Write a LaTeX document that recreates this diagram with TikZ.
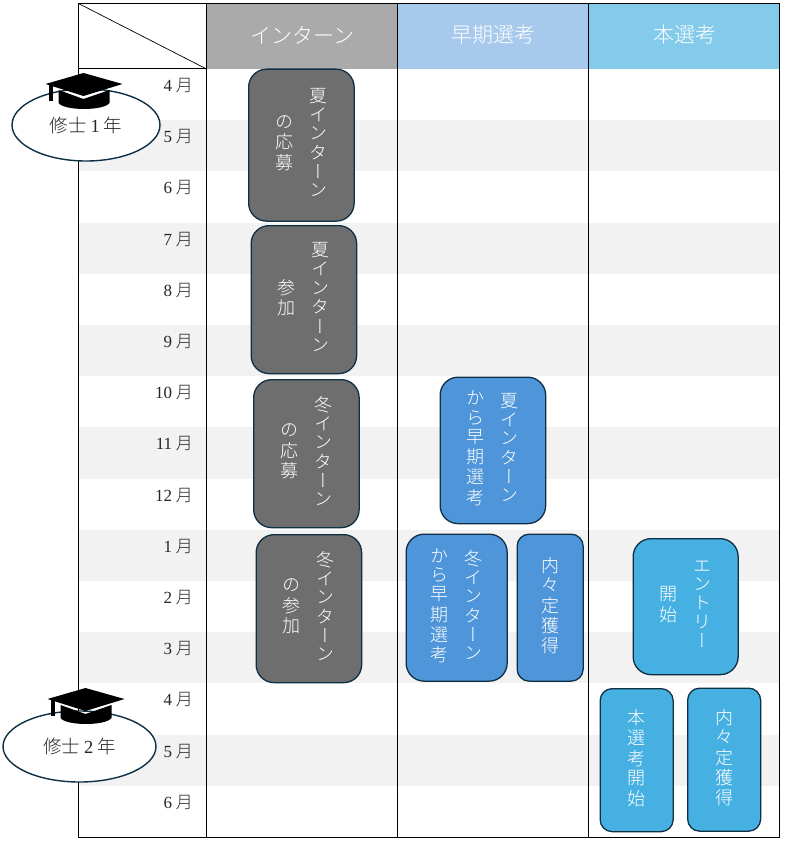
\documentclass[tikz,border=0pt]{standalone}
\usepackage{fontspec}
\usepackage{xcolor}
\usetikzlibrary{calc,positioning,shapes.geometric}
\setmainfont{Noto Sans CJK JP}[UprightFont=* Light]
\newfontfamily\tatefont{Noto Sans CJK JP}[UprightFont=* Light,RawFeature=+vert]
\newfontfamily\numfont{Liberation Serif}
\definecolor{rowgray}{HTML}{F2F2F2}
\definecolor{edgenavy}{HTML}{0F3044}
\definecolor{headgray}{HTML}{AAAAAA}
\definecolor{headblue}{HTML}{A6C9EC}
\definecolor{headsky}{HTML}{83CAEB}
\definecolor{boxgray}{HTML}{6E6E6E}
\definecolor{boxblue}{HTML}{4E95D9}
\definecolor{boxsky}{HTML}{45B0E1}
\newcommand{\tate}[1]{{\tatefont\renewcommand{\arraystretch}{0.82}\begin{tabular}{@{}c@{}}#1\end{tabular}}}
\tikzset{
  planbox/.style={draw=edgenavy,line width=1.3pt,rounded corners=#1,text=white,inner sep=0pt,font=\fontsize{18}{22}\selectfont,anchor=north west},
  planbox/.default=18pt,
  graybox/.style={planbox,fill=boxgray},
  bluebox/.style={planbox,fill=boxblue},
  skybox/.style={planbox,fill=boxsky},
  headcell/.style={text=white,font=\fontsize{21}{25}\selectfont},
  monthlabel/.style={anchor=east,text=black!85,font=\fontsize{17}{20}\selectfont},
  yearoval/.style={draw=edgenavy,line width=1.4pt,fill=white,ellipse,inner sep=0pt,text=black!85,font=\fontsize{18.5}{22}\selectfont},
  gradcap/.pic={
    \fill[black] (-38,0)--(0,-11)--(39,0)--(0,12)--cycle;
    \fill[black] (-34.5,1) rectangle (-30.5,17);
    \fill[black] (-25,6)--(0,15)--(26,6)--(26,19) .. controls (20,27) and (-19,27) .. (-25,19)--cycle;
  }
}
\begin{document}
\begin{tikzpicture}[x=1pt,y=-1pt,line cap=butt]
\useasboundingbox (0,0) rectangle (786,843);
% month stripes
\foreach \i in {1,3,...,13}{\fill[rowgray] (78.5,{69+51.2*\i}) rectangle (779,{69+51.2*(\i+1)});}
% header cells
\fill[headgray] (206.5,4) rectangle (397,69);
\fill[headblue] (397,4) rectangle (588,69);
\fill[headsky] (588,4) rectangle (779,69);
\node[headcell] (intern) at (302.5,35) {インターン};
\node[headcell] (early) at (493.5,35) {早期選考};
\node[headcell] (main) at (685,35) {本選考};
% table lines
\draw[line width=1pt] (78.5,3.5) rectangle (779,837);
\draw[line width=1pt] (206.5,3.5)--(206.5,837);
\draw[line width=1pt] (397,3.5)--(397,837);
\draw[line width=1pt] (588.5,3.5)--(588.5,837);
\draw[line width=1pt] (78.5,69)--(206.5,69);
\draw[line width=0.7pt] (78.5,3.5)--(206.5,69);
% months
\foreach \i/\m in {0/4,1/5,2/6,3/7,4/8,5/9,6/10,7/11,8/12,9/1,10/2,11/3,12/4,13/5,14/6}{
  \node[monthlabel] (month\i) at (196.5,{85.5+51.2*\i}) {{\numfont\m}\ 月};
}
% internship boxes
\node[graybox,minimum width=105.5pt,minimum height=152pt] (natsuapply) at (248,68.5) {\tate{の\\応\\募}\hspace{16pt}\tate{夏\\イ\\ン\\タ\\ー\\ン}};
\node[graybox,minimum width=105.5pt,minimum height=148pt] (natsujoin) at (250.5,225) {\tate{参\\加}\hspace{16pt}\tate{夏\\イ\\ン\\タ\\ー\\ン}};
\node[graybox,minimum width=105.5pt,minimum height=148pt] (fuyuapply) at (253,379) {\tate{の\\応\\募}\hspace{16pt}\tate{冬\\イ\\ン\\タ\\ー\\ン}};
\node[graybox,minimum width=105.5pt,minimum height=148pt] (fuyujoin) at (255.5,534) {\tate{の\\参\\加}\hspace{16pt}\tate{冬\\イ\\ン\\タ\\ー\\ン}};
% early selection boxes
\node[bluebox,minimum width=105.5pt,minimum height=146.5pt] (natsuearly) at (439.5,376.5) {\tate{か\\ら\\早\\期\\選\\考}\hspace{16pt}\tate{夏\\イ\\ン\\タ\\ー\\ン}};
\node[bluebox,minimum width=101pt,minimum height=147pt] (fuyuearly) at (405.5,533.5) {\tate{か\\ら\\早\\期\\選\\考}\hspace{16pt}\tate{冬\\イ\\ン\\タ\\ー\\ン}};
\node[planbox=12pt,fill=boxblue,minimum width=66pt,minimum height=147pt] (earlyoffer) at (516.5,533.5) {\tate{内\\々\\定\\獲\\得}};
% main selection boxes
\node[skybox,minimum width=105pt,minimum height=136pt] (entry) at (632.5,538) {\tate{開\\始}\hspace{16pt}\tate{エ\\ン\\ト\\リ\\ー}};
\node[planbox=12pt,fill=boxsky,minimum width=73pt,minimum height=143pt] (mainstart) at (599.5,688) {\tate{本\\選\\考\\開\\始}};
\node[planbox=12pt,fill=boxsky,minimum width=73pt,minimum height=143pt] (mainoffer) at (687,687.5) {\tate{内\\々\\定\\獲\\得}};
% year marks
\node[yearoval,minimum width=148pt,minimum height=72pt] (firstyear) at (86,125) {修士\ {\numfont 1}\ 年};
\node[yearoval,minimum width=153pt,minimum height=71pt] (secondyear) at (79.5,746.5) {修士\ {\numfont 2}\ 年};
\pic at (83.5,84) {gradcap};
\pic at (85.5,699) {gradcap};
\end{tikzpicture}
\end{document}
